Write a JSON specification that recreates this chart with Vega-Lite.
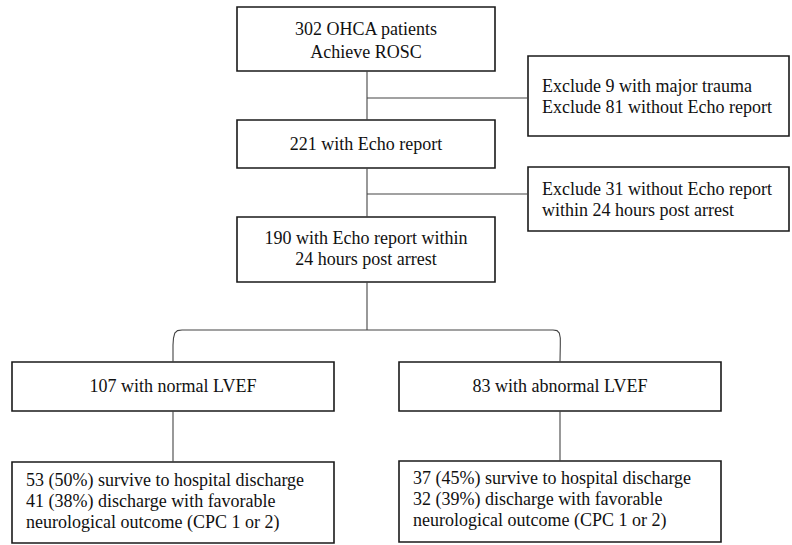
{
  "$schema": "https://vega.github.io/schema/vega-lite/v6.json",
  "width": 792,
  "height": 545,
  "padding": 0,
  "autosize": {"type": "none"},
  "background": "white",
  "config": {"view": {"stroke": null}},
  "datasets": {
    "boxes": [
      {"id": "b1", "x1": 237, "x2": 495, "y1": 7, "y2": 71},
      {"id": "e1", "x1": 528, "x2": 789, "y1": 56, "y2": 136},
      {"id": "b2", "x1": 237, "x2": 495, "y1": 120, "y2": 168},
      {"id": "e2", "x1": 528, "x2": 789, "y1": 167, "y2": 231},
      {"id": "b3", "x1": 237, "x2": 495, "y1": 217, "y2": 282},
      {"id": "l1", "x1": 12, "x2": 334, "y1": 362, "y2": 411},
      {"id": "r1", "x1": 399, "x2": 721, "y1": 362, "y2": 411},
      {"id": "l2", "x1": 12, "x2": 334, "y1": 462, "y2": 543},
      {"id": "r2", "x1": 399, "x2": 721, "y1": 461, "y2": 542}
    ],
    "links": [
      {"x1": 367, "x2": 367, "y1": 71, "y2": 120},
      {"x1": 367, "x2": 528, "y1": 98, "y2": 98},
      {"x1": 367, "x2": 367, "y1": 168, "y2": 217},
      {"x1": 367, "x2": 528, "y1": 194, "y2": 194},
      {"x1": 367, "x2": 367, "y1": 282, "y2": 330},
      {"x1": 173, "x2": 173, "y1": 411, "y2": 462},
      {"x1": 560, "x2": 560, "y1": 411, "y2": 461}
    ],
    "branch": [
      {"o": 0, "px": 173, "py": 362},
      {"o": 1, "px": 173, "py": 345},
      {"o": 2, "px": 173.5, "py": 338},
      {"o": 3, "px": 174.8, "py": 333},
      {"o": 4, "px": 177.5, "py": 330.6},
      {"o": 5, "px": 182, "py": 330},
      {"o": 6, "px": 553, "py": 330},
      {"o": 7, "px": 557, "py": 330.6},
      {"o": 8, "px": 559.3, "py": 333},
      {"o": 9, "px": 560.3, "py": 338},
      {"o": 10, "px": 560.3, "py": 345},
      {"o": 11, "px": 560, "py": 362}
    ],
    "centerText": [
      {"t": "302 OHCA patients", "x": 366, "y": 30},
      {"t": "Achieve ROSC", "x": 366, "y": 53},
      {"t": "221 with Echo report", "x": 366, "y": 145},
      {"t": "190 with Echo report within", "x": 366, "y": 239},
      {"t": "24 hours post arrest", "x": 366, "y": 260},
      {"t": "107 with normal LVEF", "x": 173, "y": 387},
      {"t": "83 with abnormal LVEF", "x": 560, "y": 387}
    ],
    "leftText": [
      {"t": "Exclude 9 with major trauma", "x": 542, "y": 87},
      {"t": "Exclude 81 without Echo report", "x": 542, "y": 108},
      {"t": "Exclude 31 without Echo report", "x": 542, "y": 190},
      {"t": "within 24 hours post arrest", "x": 542, "y": 211},
      {"t": "53 (50%) survive to hospital discharge", "x": 26, "y": 481},
      {"t": "41 (38%) discharge with favorable", "x": 26, "y": 502},
      {"t": "neurological outcome (CPC 1 or 2)", "x": 26, "y": 523},
      {"t": "37 (45%) survive to hospital discharge", "x": 413, "y": 479},
      {"t": "32 (39%) discharge with favorable", "x": 413, "y": 500},
      {"t": "neurological outcome (CPC 1 or 2)", "x": 413, "y": 521}
    ]
  },
  "layer": [
    {
      "data": {"name": "boxes"},
      "mark": {"type": "rect", "fill": "white", "stroke": "#1a1a1a", "strokeWidth": 1.6},
      "encoding": {
        "x": {"field": "x1", "type": "quantitative", "scale": {"domain": [0, 792], "nice": false, "zero": false}, "axis": null},
        "x2": {"field": "x2"},
        "y": {"field": "y1", "type": "quantitative", "scale": {"domain": [0, 545], "nice": false, "zero": false, "reverse": true}, "axis": null},
        "y2": {"field": "y2"}
      }
    },
    {
      "data": {"name": "links"},
      "mark": {"type": "rule", "stroke": "#444444", "strokeWidth": 1.1},
      "encoding": {
        "x": {"field": "x1", "type": "quantitative", "scale": {"domain": [0, 792], "nice": false, "zero": false}, "axis": null},
        "x2": {"field": "x2"},
        "y": {"field": "y1", "type": "quantitative", "scale": {"domain": [0, 545], "nice": false, "zero": false, "reverse": true}, "axis": null},
        "y2": {"field": "y2"}
      }
    },
    {
      "data": {"name": "branch"},
      "mark": {"type": "line", "stroke": "#444444", "strokeWidth": 1.1},
      "encoding": {
        "x": {"field": "px", "type": "quantitative", "scale": {"domain": [0, 792], "nice": false, "zero": false}, "axis": null},
        "y": {"field": "py", "type": "quantitative", "scale": {"domain": [0, 545], "nice": false, "zero": false, "reverse": true}, "axis": null},
        "order": {"field": "o", "type": "quantitative"}
      }
    },
    {
      "data": {"name": "centerText"},
      "mark": {"type": "text", "font": "Liberation Serif", "fontSize": 18, "align": "center", "baseline": "middle", "color": "#111111"},
      "encoding": {
        "x": {"field": "x", "type": "quantitative", "scale": {"domain": [0, 792], "nice": false, "zero": false}, "axis": null},
        "y": {"field": "y", "type": "quantitative", "scale": {"domain": [0, 545], "nice": false, "zero": false, "reverse": true}, "axis": null},
        "text": {"field": "t", "type": "nominal"}
      }
    },
    {
      "data": {"name": "leftText"},
      "mark": {"type": "text", "font": "Liberation Serif", "fontSize": 18, "align": "left", "baseline": "middle", "color": "#111111"},
      "encoding": {
        "x": {"field": "x", "type": "quantitative", "scale": {"domain": [0, 792], "nice": false, "zero": false}, "axis": null},
        "y": {"field": "y", "type": "quantitative", "scale": {"domain": [0, 545], "nice": false, "zero": false, "reverse": true}, "axis": null},
        "text": {"field": "t", "type": "nominal"}
      }
    }
  ]
}
